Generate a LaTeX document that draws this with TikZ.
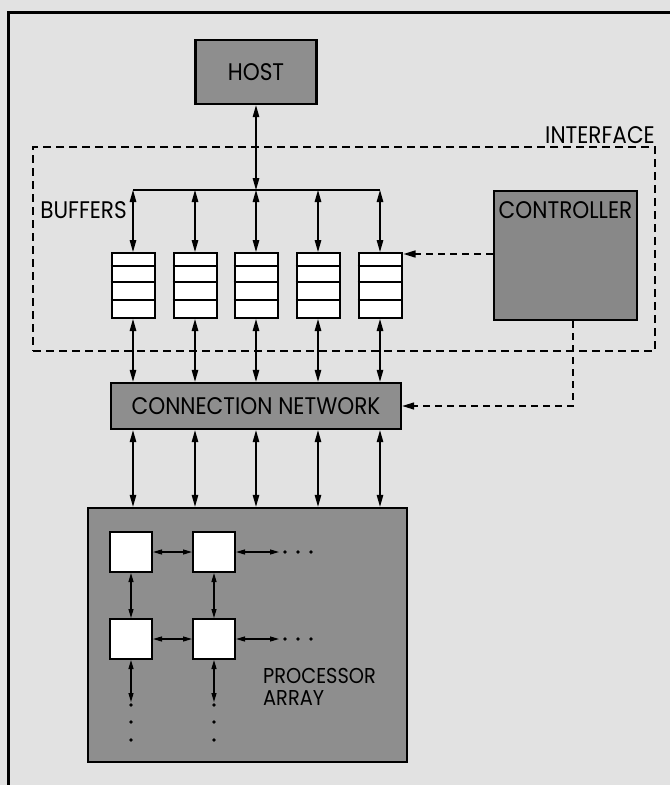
\documentclass[tikz,border=0pt]{standalone}
\usepackage{fontspec}
\newfontfamily\lab{Poppins}[FakeStretch=0.9]
\usetikzlibrary{arrows.meta,calc}
\definecolor{bgcol}{HTML}{E2E2E2}
\definecolor{boxgray}{HTML}{8E8E8E}
\definecolor{ctrlgray}{HTML}{888888}
\begin{document}
\begin{tikzpicture}[x=1pt,y=-1pt,
  box/.style={draw=black, line width=2.4pt, fill=boxgray, inner sep=0pt},
  buf/.style={draw=black, line width=2pt, fill=white, minimum width=43pt, minimum height=65pt, inner sep=0pt},
  pe/.style={draw=black, line width=2pt, fill=white, minimum width=42pt, minimum height=40pt, inner sep=0pt},
  biarrow/.style={line width=1.3pt, {Triangle[length=12pt,width=6.5pt]}-{Triangle[length=12pt,width=6.5pt]}},
  smallarrow/.style={line width=1.2pt, {Triangle[length=9pt,width=5pt]}-{Triangle[length=9pt,width=5pt]}},
  dasharrow/.style={line width=1.5pt, dash pattern=on 7pt off 5pt, -{Triangle[length=12pt,width=7pt]}},
  lbl/.style={font=\lab\fontsize{24}{17}\selectfont, inner sep=0pt},
  palbl/.style={font=\lab\fontsize{21.5}{17}\selectfont, inner sep=0pt},
  dotmark/.style={circle, fill=black, inner sep=0pt, minimum size=3.6pt}
]
\fill[bgcol] (0,0) rectangle (670,785);
\useasboundingbox (0,0) rectangle (670,785);
% frame
\draw[line width=3pt] (8,785) -- (8,12) -- (670,12);

% host
\node[box, minimum width=121pt, minimum height=64pt, font=\lab\fontsize{24}{17}\selectfont] (host) at (256,72) {HOST};

% interface
\node[draw, line width=1.5pt, dash pattern=on 8pt off 5pt, minimum width=622pt, minimum height=204pt, inner sep=0pt] (iface) at (344,249) {};
\node[lbl, anchor=base east] (ifacelbl) at (655,143) {INTERFACE};

% bus
\coordinate (busL) at (133,190);
\coordinate (busR) at (380,190);
\draw[line width=1.3pt] (busL) -- (busR);
\draw[biarrow] (host.south) -- (host.south |- busL);

% buffers
\foreach \i/\x in {1/133,2/195,3/256,4/318,5/380}{
  \node[buf] (b\i) at (\x,285.5) {};
  \foreach \d in {14,30,48}{
    \draw[line width=2pt] ($(b\i.north west)+(0,\d)$) -- ($(b\i.north east)+(0,\d)$);
  }
  \draw[biarrow] (b\i.north |- busL) -- (b\i.north);
}
\node[lbl, anchor=base east] (buflbl) at (127,218) {BUFFERS};

% controller
\node[box, fill=ctrlgray, minimum width=143pt, minimum height=129pt] (ctrl) at (565.5,255.5) {};
\node[lbl, anchor=base] (ctrllbl) at (565.5,218) {CONTROLLER};

% connection network
\node[box, minimum width=290pt, minimum height=46pt, font=\lab\fontsize{24}{17}\selectfont] (cn) at (256,406) {CONNECTION NETWORK};

% processor array
\node[box, minimum width=319pt, minimum height=254pt] (pa) at (247.5,635) {};

% controller links
\draw[dasharrow] ($(ctrl.west |- b5.north)+(0,2)$) -- ($(b5.north east)+(1,2)$);
\coordinate (cb) at ($(ctrl.south)+(7.5,0)$);
\draw[dasharrow] (cb) |- (cn.east);

% buffer to network, network to array
\foreach \i in {1,...,5}{
  \draw[biarrow] (b\i.south) -- (b\i.south |- cn.north);
  \draw[biarrow] (b\i.south |- cn.south) -- (b\i.south |- pa.north);
}

% processing elements
\node[pe] (pe11) at (131,552) {};
\node[pe] (pe12) at (214,552) {};
\node[pe] (pe21) at (131,639) {};
\node[pe] (pe22) at (214,639) {};
\coordinate (r1) at (279,552);
\coordinate (r2) at (279,639);
\coordinate (d1) at (131,702);
\coordinate (d2) at (214,702);
\draw[smallarrow] (pe11) -- (pe12);
\draw[smallarrow] (pe21) -- (pe22);
\draw[smallarrow] (pe12) -- (r1);
\draw[smallarrow] (pe22) -- (r2);
\draw[smallarrow] (pe11) -- (pe21);
\draw[smallarrow] (pe12) -- (pe22);
\draw[smallarrow] (pe21) -- (d1);
\draw[smallarrow] (pe22) -- (d2);
\foreach \x/\n in {285/a,298/b,311/c}{
  \node[dotmark] (h1\n) at (\x,552) {};
  \node[dotmark] (h2\n) at (\x,639) {};
}
\foreach \y/\n in {705/a,722/b,740/c}{
  \node[dotmark] (v1\n) at (131,\y) {};
  \node[dotmark] (v2\n) at (214,\y) {};
}
\node[palbl, anchor=base west] (palbl1) at (263,683) {PROCESSOR};
\node[palbl, anchor=base west] (palbl2) at (263,705) {ARRAY};
\end{tikzpicture}
\end{document}
